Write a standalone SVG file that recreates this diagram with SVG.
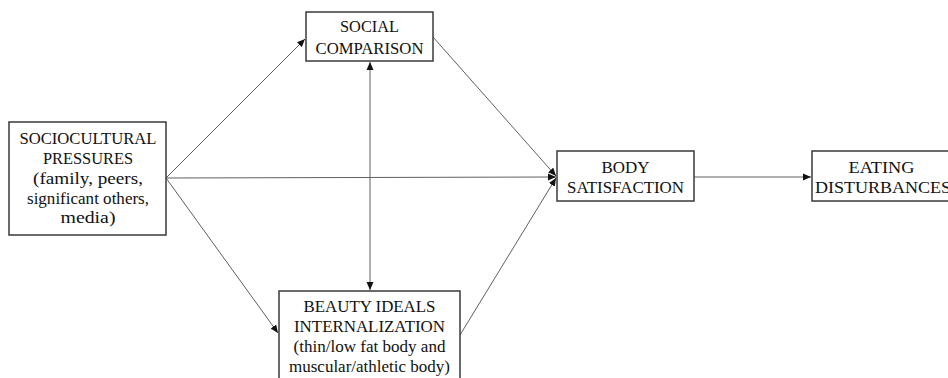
<svg xmlns="http://www.w3.org/2000/svg" width="948" height="378" viewBox="0 0 948 378">
<style>
.box{fill:#fff;stroke:#3a3a3a;stroke-width:1.5}
.t{font-family:'Liberation Serif','Times New Roman',serif;font-size:16.5px;fill:#111;text-anchor:middle}
.c{stroke:#606060;stroke-width:1;fill:none}
</style>
<defs>
<marker id="ah" markerWidth="9" markerHeight="8" refX="8" refY="4" orient="auto" markerUnits="userSpaceOnUse">
<path d="M0,0.5 L8,4 L0,7.5 z" fill="#111"/>
</marker>
<marker id="as" markerWidth="9" markerHeight="8" refX="8" refY="4" orient="auto-start-reverse" markerUnits="userSpaceOnUse">
<path d="M0,0.5 L8,4 L0,7.5 z" fill="#111"/>
</marker>
</defs>
<rect width="948" height="378" fill="#fff"/>
<g id="connectors">
<line class="c" x1="166" y1="178" x2="305" y2="39" marker-end="url(#ah)"/>
<line class="c" x1="166" y1="178" x2="556" y2="177" marker-end="url(#ah)"/>
<line class="c" x1="166" y1="178" x2="278" y2="333" marker-end="url(#ah)"/>
<line class="c" x1="370" y1="62" x2="370" y2="290" marker-start="url(#as)" marker-end="url(#as)"/>
<line class="c" x1="433" y1="37" x2="556" y2="176" marker-end="url(#ah)"/>
<line class="c" x1="460" y1="335" x2="556" y2="178" marker-end="url(#ah)"/>
<line class="c" x1="694" y1="177" x2="811" y2="177" marker-end="url(#ah)"/>
</g>
<g id="sociocultural">
<rect class="box" x="9" y="122" width="157" height="113"/>
<text class="t" x="88" y="144" textLength="137" lengthAdjust="spacingAndGlyphs">SOCIOCULTURAL</text>
<text class="t" x="88" y="164" textLength="90" lengthAdjust="spacingAndGlyphs">PRESSURES</text>
<text class="t" x="88" y="184" textLength="110" lengthAdjust="spacingAndGlyphs">(family, peers,</text>
<text class="t" x="88" y="204" textLength="122" lengthAdjust="spacingAndGlyphs">significant others,</text>
<text class="t" x="88" y="223" textLength="55" lengthAdjust="spacingAndGlyphs">media)</text>
</g>
<g id="social-comparison">
<rect class="box" x="306" y="12" width="127" height="49"/>
<text class="t" x="369.5" y="32" textLength="59" lengthAdjust="spacingAndGlyphs">SOCIAL</text>
<text class="t" x="369.5" y="54" textLength="108" lengthAdjust="spacingAndGlyphs">COMPARISON</text>
</g>
<g id="beauty-ideals">
<rect class="box" x="279" y="291" width="181" height="100"/>
<text class="t" x="369.5" y="312" textLength="132" lengthAdjust="spacingAndGlyphs">BEAUTY IDEALS</text>
<text class="t" x="369.5" y="332" textLength="151" lengthAdjust="spacingAndGlyphs">INTERNALIZATION</text>
<text class="t" x="369.5" y="352" textLength="152" lengthAdjust="spacingAndGlyphs">(thin/low fat body and</text>
<text class="t" x="369.5" y="372" textLength="161" lengthAdjust="spacingAndGlyphs">muscular/athletic body)</text>
</g>
<g id="body-satisfaction">
<rect class="box" x="557" y="151" width="137" height="50"/>
<text class="t" x="625.5" y="173" textLength="48" lengthAdjust="spacingAndGlyphs">BODY</text>
<text class="t" x="625.5" y="193" textLength="117" lengthAdjust="spacingAndGlyphs">SATISFACTION</text>
</g>
<g id="eating-disturbances">
<rect class="box" x="812" y="151" width="150" height="50"/>
<text class="t" x="881.5" y="173" textLength="66" lengthAdjust="spacingAndGlyphs">EATING</text>
<text class="t" x="815" y="193" style="text-anchor:start" textLength="136" lengthAdjust="spacingAndGlyphs">DISTURBANCES</text>
</g>
</svg>
